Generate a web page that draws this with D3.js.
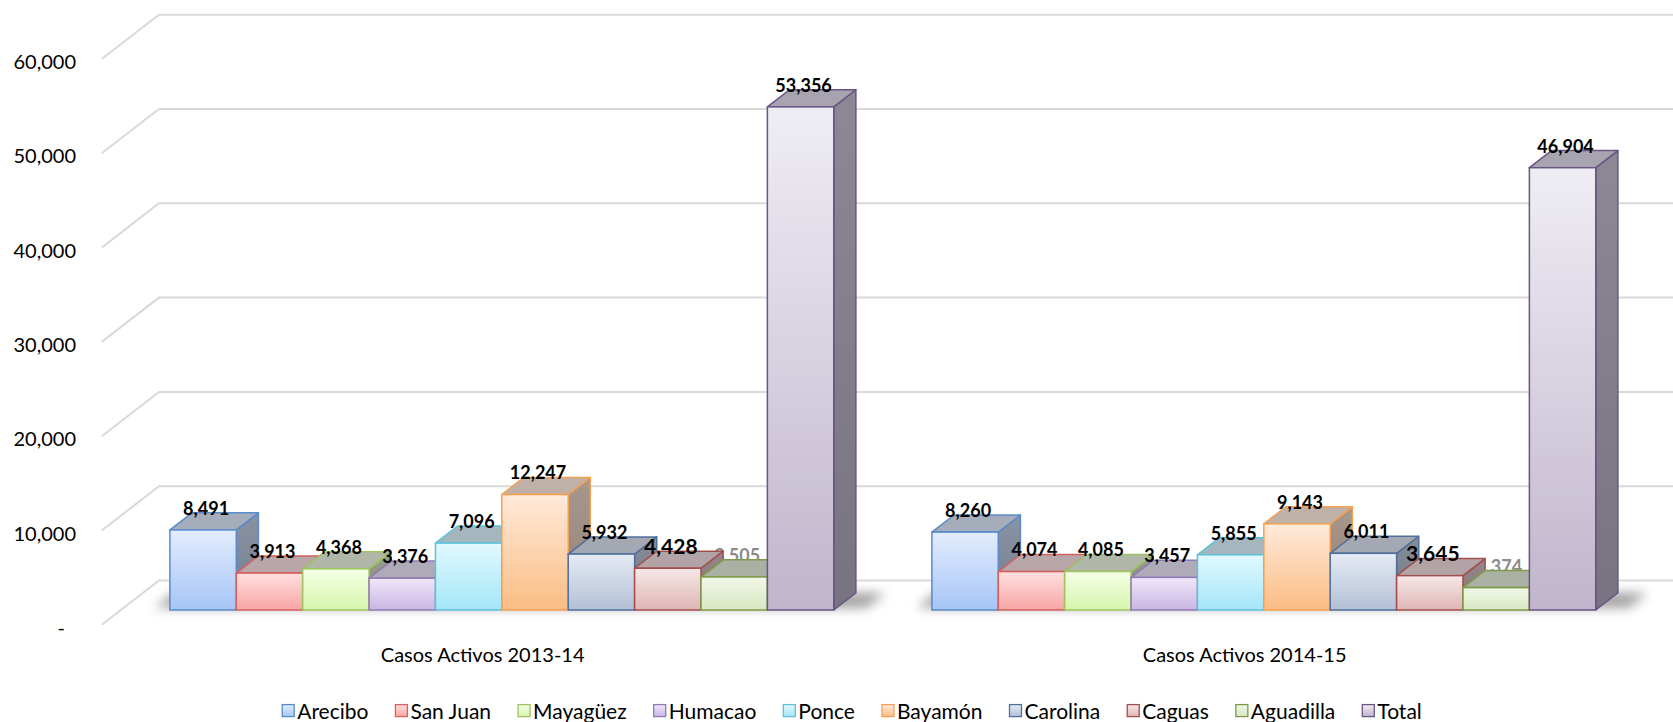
<!DOCTYPE html>
<html>
<head>
<meta charset="utf-8">
<script src="https://cdn.jsdelivr.net/npm/d3@7"></script>
<style>
  body { margin: 0; background: #fff; }
  text { font-family: Lato, 'Open Sans', sans-serif; }
</style>
</head>
<body>
<svg id="chart" width="1673" height="722"></svg>
<script>
const categories = ['Casos Activos 2013-14', 'Casos Activos 2014-15']
const regions = ['Arecibo', 'San Juan', 'Mayagüez', 'Humacao', 'Ponce', 'Bayamón', 'Carolina', 'Caguas', 'Aguadilla', 'Total']
const casos2013 = [8491, 3913, 4368, 3376, 7096, 12247, 5932, 4428, 3505, 53356]
const casos2014 = [8260, 4074, 4085, 3457, 5855, 9143, 6011, 3645, 2374, 46904]
const yTicks = [0, 10000, 20000, 30000, 40000, 50000, 60000]

const borderColors = ['#5a8acb', '#d4625f', '#9fc35e', '#9279b5', '#5ec2da', '#f5a053', '#50709c', '#a34e4c', '#7d9a46', '#6a5585']
const lightColors = ['#e3edfd', '#ffe0e0', '#f5ffe6', '#f0e8fa', '#e2f9ff', '#ffeadb', '#e6ebf4', '#f7e8e8', '#f1f7e8', '#efedf4']
const darkColors = ['#a6c5f7', '#f8a5a5', '#d6f5ad', '#c9b5e3', '#a4e6f7', '#fbbd84', '#b2c0d6', '#dfb5b5', '#d8e7c2', '#c0b5cc']

const width = 1673
const floorFront = 624.8       // front edge of the floor (value 0)
const depthX = 57.3, depthY = 44.3   // full depth of the 3d floor
const plotLeft = 101.7
const barFront = 0.334, barBack = 0.72
const hiddenLabels = ['Aguadilla']   // excel draws these grey, behind the bars
const bigLabels = ['Caguas']

const data = categories.map((cat, i) => ({
  category: cat,
  values: regions.map((r, j) => ({ region: r, index: j, value: (i === 0 ? casos2013 : casos2014)[j] }))
}))

const svg = d3.select('#chart')
const defs = svg.append('defs')

const y = d3.scaleLinear().domain([0, 60000]).range([floorFront, 59])
const xGroup = d3.scaleBand().domain(categories).range([plotLeft, plotLeft + 1524])
  .paddingInner(0.1288).paddingOuter(0.0644)
const xRegion = d3.scaleBand().domain(regions).range([0, xGroup.bandwidth()])

// gradients for every region
regions.forEach((r, i) => {
  const front = defs.append('linearGradient').attr('id', 'front-' + i)
    .attr('x1', 0).attr('y1', 0).attr('x2', 0).attr('y2', 1)
  front.append('stop').attr('offset', '0%').attr('stop-color', lightColors[i])
  front.append('stop').attr('offset', '100%').attr('stop-color', darkColors[i])

  const side = defs.append('linearGradient').attr('id', 'side-' + i)
    .attr('x1', 0).attr('y1', 0).attr('x2', 0).attr('y2', 1)
  side.append('stop').attr('offset', '0%').attr('stop-color', d3.interpolateRgb('#95959a', borderColors[i])(0.2))
  side.append('stop').attr('offset', '100%').attr('stop-color', d3.interpolateRgb('#7a7a80', borderColors[i])(0.2))
})

defs.append('filter').attr('id', 'blur').attr('x', '-20%').attr('y', '-100%').attr('width', '140%').attr('height', '300%')
  .append('feGaussianBlur').attr('stdDeviation', 6)

// projected point: x at the floor's front edge, value, depth fraction
function pt (x, v, f) {
  return [x + f * depthX, y(v) - f * depthY]
}

// gridlines
const grid = svg.append('g').attr('id', 'grid')
yTicks.forEach(v => {
  const a = pt(plotLeft, v, 0), b = pt(plotLeft, v, 1)
  grid.append('path')
    .attr('d', 'M' + a + 'L' + b + 'L' + width + ',' + b[1])
    .attr('fill', 'none').attr('stroke', '#d9d9d9').attr('stroke-width', 2)
})

// y labels
const fmt = d3.format(',')
svg.append('g').selectAll('text').data(yTicks).enter().append('text')
  .attr('x', 76).attr('y', d => y(d) + 2)
  .attr('dx', d => d === 0 ? -11 : 0)
  .attr('text-anchor', 'end').attr('dominant-baseline', 'central')
  .style('font-size', '20px').style('fill', '#000')
  .text(d => d === 0 ? '-' : fmt(d))

// floor shadow of each group
svg.append('g').selectAll('path').data(categories).enter().append('path')
  .attr('d', d => {
    const x0 = xGroup(d) - 18, x1 = xGroup(d) + xGroup.bandwidth() + 30
    return 'M' + pt(x0, 0, barFront + 0.05) + 'L' + pt(x1, 0, barFront + 0.05) +
      'L' + pt(x1, 0, barBack) + 'L' + pt(x0, 0, barBack) + 'Z'
  })
  .attr('fill', '#000').attr('opacity', 0.38).attr('filter', 'url(#blur)')

function labelX (cat, d) {
  return xGroup(cat) + xRegion(d.region) + barFront * depthX + xRegion.bandwidth() / 2 + 3
}
function labelY (d) {
  return y(d.value) - barBack * depthY - 5
}
function drawLabels (layer, filterFn) {
  data.forEach(g => {
    layer.selectAll(null).data(g.values.filter(filterFn)).enter().append('text')
      .attr('x', d => labelX(g.category, d))
      .attr('y', d => labelY(d) - (bigLabels.includes(d.region) ? 1 : 0))
      .attr('text-anchor', 'middle').attr('dominant-baseline', 'central')
      .style('font-size', d => bigLabels.includes(d.region) ? '21px' : '18px')
      .style('font-weight', 'bold')
      .style('fill', d => hiddenLabels.includes(d.region) ? '#8c8c8c' : '#000')
      .text(d => fmt(d.value))
  })
}

// grey labels sit underneath the bars
drawLabels(svg.append('g'), d => hiddenLabels.includes(d.region))

// bars
const bars = svg.append('g').attr('id', 'bars')
data.forEach(g => {
  const gg = bars.append('g')
  g.values.forEach(d => {
    const x0 = xGroup(g.category) + xRegion(d.region)
    const x1 = x0 + xRegion.bandwidth()
    const c = borderColors[d.index]
    const fbl = pt(x0, 0, barFront), fbr = pt(x1, 0, barFront)
    const ftl = pt(x0, d.value, barFront), ftr = pt(x1, d.value, barFront)
    const btl = pt(x0, d.value, barBack), btr = pt(x1, d.value, barBack)
    const bbr = pt(x1, 0, barBack)
    const b = gg.append('g').attr('class', 'bar')
    b.append('path').attr('d', 'M' + fbr + 'L' + bbr + 'L' + btr + 'L' + ftr + 'Z')
      .attr('fill', 'url(#side-' + d.index + ')').attr('stroke', c).attr('stroke-width', 1.5)
      .attr('stroke-linejoin', 'round')
    b.append('path').attr('d', 'M' + ftl + 'L' + ftr + 'L' + btr + 'L' + btl + 'Z')
      .attr('fill', d3.interpolateRgb('#b4b4b8', c)(0.17)).attr('stroke', c).attr('stroke-width', 1.5)
      .attr('stroke-linejoin', 'round')
    b.append('rect')
      .attr('x', ftl[0]).attr('y', ftl[1])
      .attr('width', x1 - x0).attr('height', fbl[1] - ftl[1])
      .attr('fill', 'url(#front-' + d.index + ')').attr('stroke', c).attr('stroke-width', 1.5)
  })
})

drawLabels(svg.append('g'), d => !hiddenLabels.includes(d.region))

// category labels
svg.append('g').selectAll('text').data(categories).enter().append('text')
  .attr('x', d => xGroup(d) + xGroup.bandwidth() / 2)
  .attr('y', 654)
  .attr('text-anchor', 'middle').attr('dominant-baseline', 'central')
  .style('font-size', '20px').style('fill', '#000')
  .text(d => d)

// legend
const legend = svg.append('g').attr('id', 'legend')
let lx = 0
regions.forEach((r, i) => {
  const item = legend.append('g').attr('transform', 'translate(' + lx + ',0)')
  item.append('rect').attr('x', 0).attr('y', -6).attr('width', 12).attr('height', 12)
    .attr('fill', 'url(#front-' + i + ')').attr('stroke', borderColors[i]).attr('stroke-width', 1.3)
  const t = item.append('text').attr('x', 15).attr('y', 0)
    .attr('dominant-baseline', 'central')
    .style('font-size', '21px').style('fill', '#000')
    .text(r)
  lx += 15 + t.node().getComputedTextLength() + 27
})
const legendWidth = lx - 27
legend.attr('transform', 'translate(' + (852 - legendWidth / 2) + ',710.6)')
</script>
</body>
</html>
